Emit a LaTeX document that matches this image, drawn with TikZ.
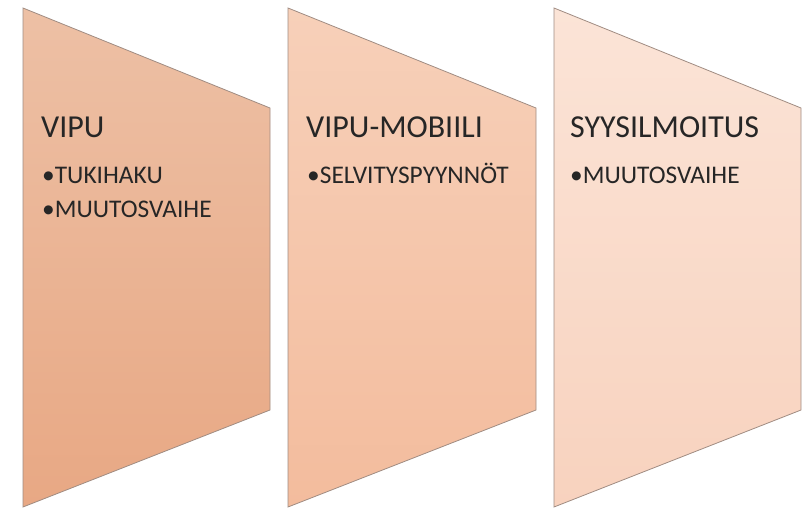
\documentclass[tikz,border=0pt]{standalone}
\usepackage{fontspec}
\setmainfont{Carlito}
\begin{document}
\begin{tikzpicture}[x=1pt,y=-1pt,
  panel/.style={draw={rgb,255:red,160;green,140;blue,130}, line width=0.8pt},
  title/.style={anchor=base west, inner sep=0pt, font=\fontsize{32}{38}\selectfont, text=black!85},
  item/.style={anchor=base west, inner sep=0pt, font=\fontsize{25.4}{30}\selectfont, text=black!85}]
\useasboundingbox (0,0) rectangle (802,508);
% panel 1
\shade[panel, top color={rgb,255:red,237;green,192;blue,165}, bottom color={rgb,255:red,232;green,168;blue,132}]
  (23,8) -- (270,108) -- (270,410) -- (23,507) -- cycle;
% panel 2
\shade[panel, top color={rgb,255:red,247;green,208;blue,185}, bottom color={rgb,255:red,243;green,188;blue,157}]
  (288,8) -- (536,108) -- (536,410) -- (288,507) -- cycle;
% panel 3
\shade[panel, top color={rgb,255:red,251;green,228;blue,215}, bottom color={rgb,255:red,248;green,210;blue,190}]
  (554,8) -- (801,108) -- (801,410) -- (554,507) -- cycle;
% texts
\node[title] (t1) at (41,137) {VIPU};
\node[item] (a1) at (42,183) {•TUKIHAKU};
\node[item] (a2) at (42,217) {•MUUTOSVAIHE};
\node[title] (t2) at (306,137) {VIPU-MOBIILI};
\node[item] (b1) at (307,183) {•SELVITYSPYYNNÖT};
\node[title] (t3) at (570,137) {SYYSILMOITUS};
\node[item] (c1) at (570,183) {•MUUTOSVAIHE};
\end{tikzpicture}
\end{document}
